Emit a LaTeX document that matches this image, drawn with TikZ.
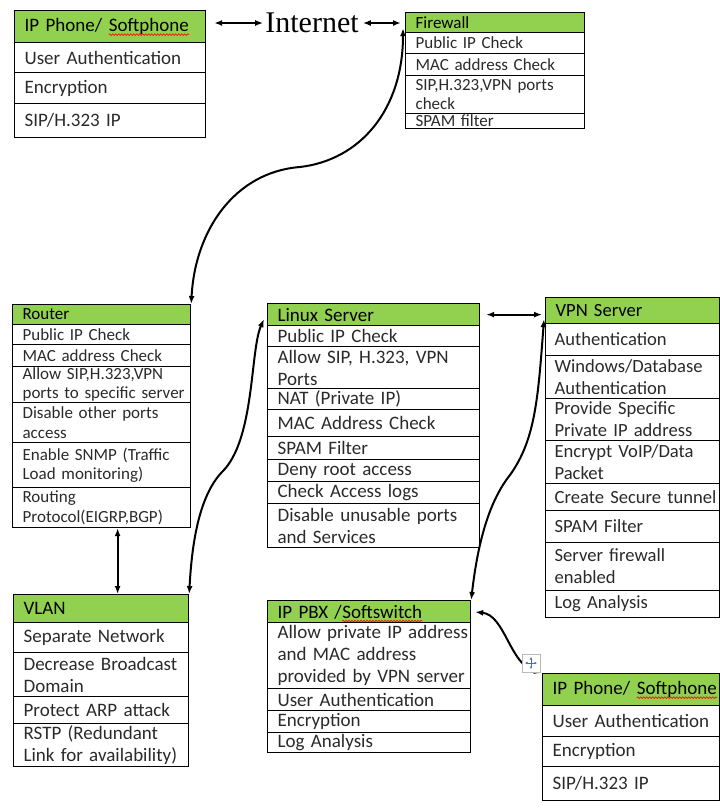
\documentclass[tikz,border=0pt]{standalone}
\usepackage{fontspec}
\setmainfont{Carlito}
\newfontfamily\inetfont{Liberation Serif}
\usetikzlibrary{arrows.meta,decorations.pathmorphing}
\definecolor{headgreen}{HTML}{92D050}
\definecolor{boxtext}{HTML}{2A2A2A}
\definecolor{movecolor}{HTML}{3A6FC4}
\newcommand\squiggle[1]{\tikz[baseline=(sq.base)]{\node[inner sep=0pt] (sq) {#1}; \draw[red, line width=0.6pt, decorate, decoration={snake, segment length=3pt, amplitude=0.9pt}] ([yshift=-3pt]sq.base west) -- ([yshift=-3pt]sq.base east);}}
\newcommand\cellfont{\fontsize{19}{22}\selectfont}
\newcommand\cellfontvpn{\fontsize{18.6}{22}\selectfont}
\newcommand\cellfontsmall{\fontsize{17}{19.5}\selectfont}
\tikzstyle{cellbox}=[rectangle, draw=black, line width=1.2pt, inner xsep=0pt, inner ysep=0pt, anchor=north west, align=left, text=boxtext, font=\cellfont, execute at begin node={\leftskip=10pt\rightskip=-20pt plus 1fil}]
\tikzstyle{headbox}=[cellbox, fill=headgreen, text=black]
\tikzstyle{dbl}=[draw, line width=2pt, {Latex[length=8pt,width=6pt]}-{Latex[length=8pt,width=6pt]}]
\tikzstyle{movebox}=[rectangle, draw=gray!55, fill=white, line width=0.7pt, minimum size=18pt, inner sep=0pt]
\tikzstyle{movearrow}=[draw=movecolor, line width=0.8pt, {Latex[length=2.5pt,width=2.5pt]}-{Latex[length=2.5pt,width=2.5pt]}]

\begin{document}
\begin{tikzpicture}[x=1pt, y=-1pt]
    \useasboundingbox (0,0) rectangle (720,809);

    % phone on top
    \node[headbox, text width=191, minimum height=32] (tl) at (14,10) {IP Phone/ \squiggle{Softphone}};
    \foreach \y/\h/\txt [count=\i] in {42/30/User Authentication, 72/31/Encryption, 103/34/{SIP/H.323 IP}}
        \node[cellbox, text width=191, minimum height=\h] (tl\i) at (14,\y) {\txt};

    \node[font=\inetfont\fontsize{30}{34}\selectfont, inner sep=0pt] (inet) at (312,23) {Internet};

    % firewall
    \node[headbox, text width=179, minimum height=20, font=\cellfontsmall] (fw) at (405,12) {Firewall};
    \foreach \y/\h/\txt [count=\i] in {32/21/Public IP Check, 53/22/MAC address Check, 75/38/{SIP,H.323,VPN ports\\check}, 113/15/SPAM filter}
        \node[cellbox, text width=179, minimum height=\h, font=\cellfontsmall] (fw\i) at (405,\y) {\txt};

    % router
    \node[headbox, text width=178, minimum height=20, font=\cellfontsmall] (rt) at (12,304) {Router};
    \foreach \y/\h/\txt [count=\i] in {324/20/Public IP Check, 344/22/MAC address Check, 366/36/{Allow SIP,H.323,VPN\\ports to specific server}, 402/40/{Disable other ports\\access}, 442/45/{Enable SNMP (Traffic\\Load monitoring)}, 487/40/{Routing\\Protocol(EIGRP,BGP)}}
        \node[cellbox, text width=178, minimum height=\h, font=\cellfontsmall] (rt\i) at (12,\y) {\txt};

    % linux server
    \node[headbox, text width=212, minimum height=22] (ls) at (267,303) {Linux Server};
    \foreach \y/\h/\txt [count=\i] in {325/21/Public IP Check, 346/42/{Allow SIP, H.323, VPN\\Ports}, 388/21/NAT (Private IP), 409/27/MAC Address Check, 436/23/SPAM Filter, 459/22/Deny root access, 481/22/Check Access logs, 503/44/{Disable unusable ports\\and Services}}
        \node[cellbox, text width=212, minimum height=\h] (ls\i) at (267,\y) {\txt};

    % vpn server
    \node[headbox, text width=174, minimum height=26, font=\cellfontvpn] (vpn) at (545,297) {VPN Server};
    \foreach \y/\h/\txt [count=\i] in {323/32/Authentication, 355/43/{Windows/Database\\Authentication}, 398/42/{Provide Specific\\Private IP address}, 440/43/{Encrypt VoIP/Data\\Packet}, 483/27/Create Secure tunnel, 510/32/SPAM Filter, 542/48/{Server firewall\\enabled}, 590/27/Log Analysis}
        \node[cellbox, text width=174, minimum height=\h, font=\cellfontvpn, execute at begin node={\leftskip=9pt\rightskip=-20pt plus 1fil}] (vpn\i) at (545,\y) {\txt};

    % vlan
    \node[headbox, text width=175, minimum height=28] (vl) at (13,594) {VLAN};
    \foreach \y/\h/\txt [count=\i] in {622/30/Separate Network, 652/44/{Decrease Broadcast\\Domain}, 696/27/Protect ARP attack, 723/43/{RSTP (Redundant\\Link for availability)}}
        \node[cellbox, text width=175, minimum height=\h] (vl\i) at (13,\y) {\txt};

    % ip pbx
    \node[headbox, text width=203, minimum height=22] (pbx) at (267,600) {IP PBX /\squiggle{Softswitch}};
    \foreach \y/\h/\txt [count=\i] in {622/66/{Allow private IP address\\and MAC address\\provided by VPN server}, 688/22/User Authentication, 710/22/Encryption, 732/20/Log Analysis}
        \node[cellbox, text width=203, minimum height=\h] (pbx\i) at (267,\y) {\txt};

    % phone at the bottom
    \node[headbox, text width=177, minimum height=32] (brp) at (542,673) {IP Phone/ \squiggle{Softphone}};
    \foreach \y/\h/\txt [count=\i] in {705/31/User Authentication, 736/30/Encryption, 766/34/{SIP/H.323 IP}}
        \node[cellbox, text width=177, minimum height=\h] (brp\i) at (542,\y) {\txt};

    % links
    \draw[dbl, shorten <=8pt, shorten >=2pt] (tl.east |- inet.west) -- (inet.west);
    \draw[dbl, shorten <=4pt, shorten >=4pt] (inet.east) -- (inet.east -| fw.west);
    \draw[dbl] ([xshift=-2pt,yshift=5pt]fw.south west) .. controls (403,110) and (360,160) .. (300,167) .. controls (235,172) and (195,230) .. (rt.north east);
    \draw[dbl] ([xshift=16pt]rt6.south) -- ([xshift=16pt]rt6.south |- vl.north);
    \draw[dbl] ([xshift=-3pt,yshift=7pt]ls.south west) .. controls (250,350) and (255,440) .. (222,472) .. controls (200,495) and (192,540) .. (vl.north east);
    \draw[dbl, shorten <=6pt, shorten >=3pt] (ls.east) -- (ls.east -| vpn.west);
    \draw[dbl] ([xshift=-1pt,yshift=5pt]vpn.south west) .. controls (538,400) and (535,440) .. (510,475) .. controls (490,500) and (478,540) .. (pbx.north east);
    \draw[dbl, shorten <=4pt] (pbx.east) .. controls (505,615) and (510,665) .. (brp.north west);

    % table handle
    \node[movebox] (mv) at (531,663) {};
    \draw[movearrow] ([xshift=-6pt]mv.center) -- ([xshift=6pt]mv.center);
    \draw[movearrow] ([yshift=-6pt]mv.center) -- ([yshift=6pt]mv.center);
\end{tikzpicture}
\end{document}
